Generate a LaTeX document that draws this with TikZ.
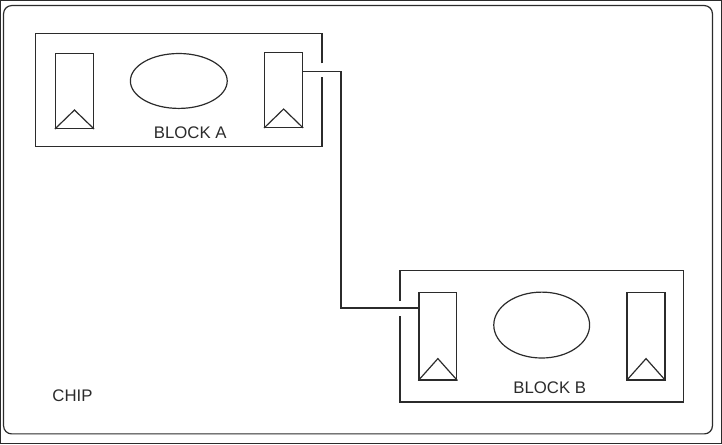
\documentclass[tikz,border=0pt]{standalone}
\usepackage{fontspec}
\setmainfont{Liberation Sans}
\usetikzlibrary{shapes.geometric,calc}
\definecolor{ink}{HTML}{2B2B2B}
\tikzset{
  every path/.style={draw=ink, line width=1.2pt},
  regbox/.style={draw=ink, line width=1.2pt, rectangle, inner sep=0pt, minimum width=38pt},
  blob/.style={draw=ink, line width=1.2pt, ellipse, inner sep=0pt},
  lbl/.style={text=ink, inner sep=0pt, font=\fontsize{16.8}{20}\selectfont}
}
\begin{document}
\begin{tikzpicture}[x=1pt,y=-1pt]
\useasboundingbox (0,0) rectangle (722,444);
% chip
\draw[rounded corners=8pt] (3,5) rectangle (713,434);
\node[lbl] (chip) at (72,396) {CHIP};
% block A outline with gap
\draw (322,63) -- (322,33) -- (35,33) -- (35,146) -- (322,146) -- (322,77);
\node[regbox, minimum height=75pt] (a1) at (74,90.5) {};
\node[regbox, minimum height=75pt] (a2) at (283.5,89.5) {};
\node[blob, minimum width=97pt, minimum height=55pt] (ea) at (178.5,80.5) {};
\draw (a1.south west) -- ([yshift=19pt]a1.south) -- (a1.south east);
\draw (a2.south west) -- ([yshift=19pt]a2.south) -- (a2.south east);
\node[lbl] (la) at (190,132) {BLOCK A};
% block B outline with gap
\draw (400,301) -- (400,270) -- (684,270) -- (684,402) -- (400,402) -- (400,316);
\node[regbox, minimum height=88pt] (b1) at (438,336) {};
\node[regbox, minimum height=88pt] (b2) at (646.5,336) {};
\node[blob, minimum width=96pt, minimum height=66pt] (eb) at (542,325) {};
\draw (b1.south west) -- ([yshift=22pt]b1.south) -- (b1.south east);
\draw (b2.south west) -- ([yshift=22pt]b2.south) -- (b2.south east);
\node[lbl] (lb) at (550,388) {BLOCK B};
% wire
\coordinate (wa) at ([yshift=18.5pt]a2.east);
\coordinate (wb) at ([yshift=28pt]b1.west);
\coordinate (bend) at (341,0);
\draw (wa) -| (bend |- wb) -- (wb);
\end{tikzpicture}
\end{document}
